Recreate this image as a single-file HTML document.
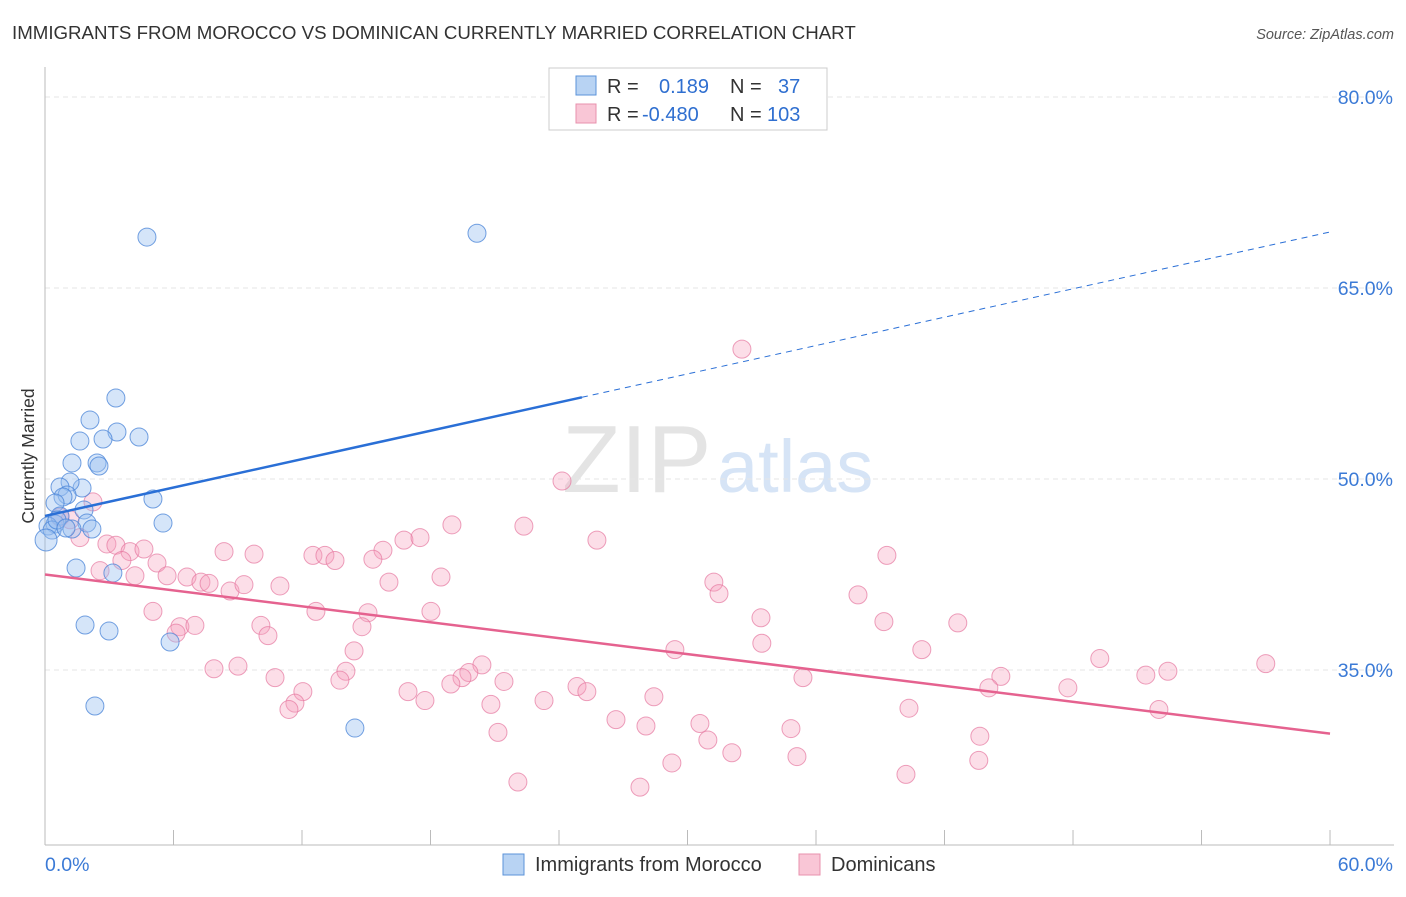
<!DOCTYPE html>
<html><head><meta charset="utf-8"><style>
body{margin:0;background:#fff;font-family:"Liberation Sans",sans-serif;}
svg text{font-family:"Liberation Sans",sans-serif;}
</style></head><body>
<svg width="1406" height="892" viewBox="0 0 1406 892" xmlns="http://www.w3.org/2000/svg">
<text x="12" y="39" font-size="18.7" fill="#333">IMMIGRANTS FROM MOROCCO VS DOMINICAN CURRENTLY MARRIED CORRELATION CHART</text>
<text x="1394" y="39" font-size="14.5" fill="#555" text-anchor="end" font-style="italic">Source: ZipAtlas.com</text>
<text x="562" y="492" font-size="96" fill="#e4e4e4" font-family="Liberation Serif">ZIP</text>
<text x="717" y="492" font-size="74" fill="#d6e4f6">atlas</text>
<g id="grid"></g>
<g id="axes"></g>
<text x="34" y="456" font-size="17.5" fill="#333" text-anchor="middle" transform="rotate(-90 34 456)">Currently Married</text>
<g id="pink"></g><g id="blue"></g><g id="trends"></g>
<g>
<rect x="549" y="68" width="278" height="62" fill="#fff" stroke="#ccc"/>
<rect x="576" y="76" width="20" height="19" fill="#b8d3f3" stroke="#5b93d9"/>
<rect x="576" y="104" width="20" height="19" fill="#f9c6d6" stroke="#e891ad"/>
<text x="607" y="93" font-size="20" fill="#333">R = <tspan fill="#2f6fd0" x="659">0.189</tspan><tspan x="730" fill="#333">N =</tspan><tspan x="778" fill="#2f6fd0">37</tspan></text>
<text x="607" y="121" font-size="20" fill="#333">R = <tspan fill="#2f6fd0" x="642">-0.480</tspan><tspan x="730" fill="#333">N =</tspan><tspan x="767" fill="#2f6fd0">103</tspan></text>
</g>
<g>
<rect x="503" y="854" width="21" height="21" fill="#b8d3f3" stroke="#5b93d9"/>
<text x="535" y="871" font-size="20" fill="#333">Immigrants from Morocco</text>
<rect x="799" y="854" width="21" height="21" fill="#f9c6d6" stroke="#e891ad"/>
<text x="831" y="871" font-size="20" fill="#333">Dominicans</text>
</g>
</svg>
<script>
const blueX=[4.76,20.17,3.31,2.10,3.36,4.39,1.63,2.71,1.26,2.43,2.52,1.73,1.17,0.70,1.03,0.84,5.04,0.47,1.82,0.70,1.96,0.47,5.51,2.19,1.26,0.14,0.33,0.05,1.45,3.17,1.87,2.99,5.84,2.33,14.47,0.56,0.98];
const blueY=[69.0,69.3,56.36,54.63,53.69,53.30,52.98,53.14,51.26,51.26,51.02,49.29,49.76,49.37,48.74,48.59,48.43,48.12,47.57,47.09,46.54,46.47,46.54,46.07,46.07,46.31,45.99,45.21,43.01,42.62,38.53,38.06,37.20,32.17,30.44,46.78,46.15];
const pinkX=[32.54,24.14,2.24,19.0,22.36,0.70,1.17,1.63,2.89,3.31,3.97,4.62,8.36,9.76,12.51,13.07,13.54,15.78,16.76,17.51,25.77,39.31,5.23,3.59,2.57,4.20,5.70,6.63,7.28,7.66,8.64,9.29,10.97,18.49,16.06,15.31,31.23,31.47,5.04,12.65,15.08,18.02,37.96,33.43,39.17,42.62,6.30,7.00,10.08,6.12,14.80,10.41,29.41,33.47,14.43,40.94,49.25,52.43,51.40,57.00,14.05,20.40,7.89,9.01,10.74,19.79,19.47,18.95,21.43,13.77,44.63,35.39,44.07,47.76,16.95,17.74,24.84,25.30,28.43,12.04,11.67,11.39,23.30,40.34,52.01,26.66,30.58,28.06,20.82,21.15,34.83,30.95,32.07,43.65,35.11,29.27,43.60,40.20,22.08,27.78];
const pinkY=[60.2,49.84,48.2,46.4,46.3,47.0,46.8,45.4,44.9,44.8,44.3,44.5,44.3,44.1,44.0,44.0,43.6,44.4,45.2,45.4,45.2,44.0,43.4,43.6,42.8,42.4,42.4,42.3,41.9,41.8,41.2,41.7,41.6,42.3,41.9,43.7,41.9,41.0,39.6,39.6,39.5,39.6,40.9,39.1,38.8,38.7,38.4,38.5,38.5,37.9,38.4,37.7,36.6,37.1,36.5,36.6,35.9,34.9,34.6,35.5,34.9,35.4,35.1,35.3,34.4,34.8,34.4,33.9,34.1,34.2,34.5,34.4,33.6,33.6,33.3,32.6,33.7,33.3,32.9,33.3,32.4,31.9,32.6,32.0,31.9,31.1,30.8,30.6,32.3,30.1,30.4,29.5,28.5,29.8,28.2,27.7,27.9,26.8,26.2,25.8];
const yTicks=[80,65,50,35];
const xTickLabels=["0.0%","60.0%"];
const blueTrend=[47.1,69.4], blueSolidEnd=25.07;
const pinkTrend=[42.5,30.0];
const NS="http://www.w3.org/2000/svg";
const sx=v=>45+v*21.417, sy=v=>479-(v-50)*12.733;
function mk(t,a,p){const e=document.createElementNS(NS,t);for(const k in a)e.setAttribute(k,a[k]);p.appendChild(e);return e;}
const grid=document.getElementById('grid'),axes=document.getElementById('axes');
yTicks.forEach(v=>{
 const l=mk('line',{x1:45,x2:1394,y1:sy(v),y2:sy(v),stroke:'#e6e6e6','stroke-dasharray':'5,4'},grid);
 
 
 const t=mk('text',{x:1393,y:sy(v)+7,'font-size':19.5,fill:'#3b7ad6','text-anchor':'end'},grid);t.textContent=v.toFixed(1)+'%';
 
 
});
mk('line',{x1:45,x2:45,y1:67,y2:845,stroke:'#bbb'},axes);
mk('line',{x1:45,x2:1394,y1:845,y2:845,stroke:'#bbb'},axes);
for(let i=1;i<=10;i++){const x=sx(i*6);const tk=mk('line',{x1:x,x2:x,y1:830,y2:845,stroke:'#bbb'},axes);
 
 }
[[0,'start',45],[60,'end',1393]].forEach((d,i)=>{const t=mk('text',{x:d[2],y:871,'font-size':19.5,fill:'#3b7ad6','text-anchor':d[1]},axes);t.textContent=xTickLabels[i];
 
 });
const pg=document.getElementById('pink');
pinkX.forEach((x,i)=>{const c=mk('circle',{cx:sx(x),cy:sy(pinkY[i]),r:9,fill:'rgba(245,160,190,0.35)',stroke:'rgba(230,120,160,0.7)','stroke-width':1},pg);
 
 });
const bg=document.getElementById('blue');
blueX.forEach((x,i)=>{const c=mk('circle',{cx:sx(x),cy:sy(blueY[i]),r:(i===27?11:9),fill:'rgba(150,190,240,0.4)',stroke:'rgba(70,130,215,0.75)','stroke-width':1},bg);
 
 });
const tg=document.getElementById('trends');
const by=x=>blueTrend[0]+(blueTrend[1]-blueTrend[0])*x/60;
let l1=mk('line',{x1:sx(0),y1:sy(by(0)),x2:sx(blueSolidEnd),y2:sy(by(blueSolidEnd)),stroke:'#2a6fd6','stroke-width':2.5},tg);


let l2=mk('line',{x1:sx(blueSolidEnd),y1:sy(by(blueSolidEnd)),x2:sx(60),y2:sy(by(60)),stroke:'#2a6fd6','stroke-width':1,'stroke-dasharray':'6,5'},tg);


let l3=mk('line',{x1:sx(0),y1:sy(pinkTrend[0]),x2:sx(60),y2:sy(pinkTrend[1]),stroke:'#e5628f','stroke-width':2.5},tg);


</script>
</body></html>
